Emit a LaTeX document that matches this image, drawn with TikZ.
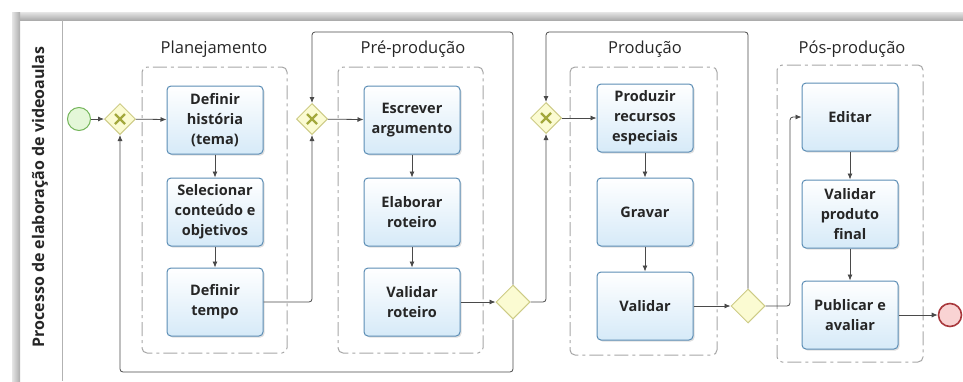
\documentclass[tikz,border=0pt]{standalone}
\usepackage{fontspec}
\setmainfont{Open Sans}
\usetikzlibrary{shapes.geometric,arrows.meta,shadows}
\definecolor{taskline}{HTML}{5B8DB5}
\definecolor{taskfill}{HTML}{D6EAF8}
\definecolor{gatefill}{HTML}{FBFBD2}
\definecolor{gateline}{HTML}{CDCB86}
\definecolor{xcol}{HTML}{A3A83C}
\definecolor{startfill}{HTML}{E4F7D8}
\definecolor{startline}{HTML}{74B55A}
\definecolor{endfill}{HTML}{F9D3D3}
\definecolor{endline}{HTML}{A8383C}
\definecolor{flowline}{HTML}{4A4A4A}
\begin{document}
\begin{tikzpicture}[x=1pt, y=-1pt,
        task/.style={rectangle, draw=taskline, line width=1pt, rounded corners=4pt,
            top color=white, bottom color=taskfill, minimum width=96, minimum height=68,
            align=center, font=\fontsize{14.5}{20}\selectfont\bfseries, text=black!85,
            drop shadow={opacity=0.25, shadow xshift=1.5pt, shadow yshift=-1.5pt}},
        gateway/.style={diamond, draw=gateline, fill=gatefill, line width=1pt,
            minimum width=31, minimum height=31, inner sep=0pt},
        decision/.style={gateway, minimum width=34, minimum height=34},
        event/.style={circle, minimum size=23, inner sep=0pt},
        group/.style={draw=gray!70, line width=1pt, rounded corners=5pt,
            dash pattern=on 14pt off 4pt on 3pt off 4pt},
        grouptitle/.style={font=\fontsize{16.5}{20}\selectfont, text=black!85},
        flow/.style={draw=flowline, line width=0.8pt, rounded corners=3pt,
            -{Latex[length=6pt,width=5pt]}},
        xmark/.style={draw=xcol, line width=2.4pt}
    ]
        \useasboundingbox (0,0) rectangle (963,381);

        % Pool
        \shade[top color=gray!20, bottom color=gray!65] (12,12) rectangle (963,20);
        \shade[left color=gray!20, right color=gray!65] (12,12) rectangle (20,381);
        \draw[gray!60, line width=1pt] (62,20) -- (62,381);
        \node[rotate=90, font=\fontsize{16}{20}\selectfont\bfseries, text=black!85] (lane) at (40,197) {Processo de elaboração de videoaulas};

        % Helper coordinates for the loops
        \coordinate (topline) at (0,32);
        \coordinate (bottomline) at (0,372);
        \coordinate (d2turn) at (790,0);

        % Groups
        \draw[group] (142,67) rectangle (287,353);
        \draw[group] (338,67) rectangle (483,353);
        \draw[group] (570,67) rectangle (717,355);
        \draw[group] (777,65) rectangle (923,362);
        \node[grouptitle] (plan) at (214,49) {Planejamento};
        \node[grouptitle] (pre) at (413,49) {Pré-produção};
        \node[grouptitle] (prod) at (645,49) {Produção};
        \node[grouptitle] (pos) at (852,49) {Pós-produção};

        % Events and gateways
        \node[event, draw=startline, fill=startfill, line width=1pt] (start) at (79,119) {};
        \node[event, draw=endline, fill=endfill, line width=1.6pt] (end) at (950,315) {};
        \node[gateway] (g1) at (120,119) {};
        \node[gateway] (g2) at (312,119) {};
        \node[gateway] (g3) at (546,118) {};
        \node[decision] (d1) at (513,302) {};
        \node[decision] (d2) at (748,306) {};
        \foreach \g in {g1,g2,g3}
            \draw[xmark] ([shift={(-5,-5)}]\g.center) -- ([shift={(5,5)}]\g.center)
                ([shift={(-5,5)}]\g.center) -- ([shift={(5,-5)}]\g.center);

        % Planejamento
        \node[task] (t11) at (215,120) {Definir\\história\\(tema)};
        \node[task] (t12) at (215,212) {Selecionar\\conteúdo e\\objetivos};
        \node[task] (t13) at (215,302) {Definir\\tempo};

        % Pre-producao
        \node[task] (t21) at (412,120) {Escrever\\argumento};
        \node[task] (t22) at (412,212) {Elaborar\\roteiro};
        \node[task] (t23) at (412,302) {Validar\\roteiro};

        % Producao
        \node[task] (t31) at (645,118) {Produzir\\recursos\\especiais};
        \node[task] (t32) at (645,212) {Gravar};
        \node[task] (t33) at (645,306) {Validar};

        % Pos-producao
        \node[task] (t41) at (850,117) {Editar};
        \node[task] (t42) at (850,214) {Validar\\produto\\final};
        \node[task] (t43) at (850,315) {Publicar e\\avaliar};

        % Flows
        \draw[flow] (start) -- (g1);
        \draw[flow] (g1) -- (t11);
        \draw[flow] (t11) -- (t12);
        \draw[flow] (t12) -- (t13);
        \draw[flow] (t13.east) -| (g2.south);
        \draw[flow] (g2) -- (t21);
        \draw[flow] (t21) -- (t22);
        \draw[flow] (t22) -- (t23);
        \draw[flow] (t23) -- (d1);
        \draw[flow] (d1.east) -| (g3.south);
        \draw[flow] (d1.north) -- (d1.north |- topline) -| (g2.north);
        \draw[flow] (d1.south) -- (d1.south |- bottomline) -| (g1.south);
        \draw[flow] (g3) -- (t31);
        \draw[flow] (t31) -- (t32);
        \draw[flow] (t32) -- (t33);
        \draw[flow] (t33) -- (d2);
        \draw[flow] (d2.north) -- (d2.north |- topline) -| (g3.north);
        \draw[flow] (d2.east) -- (d2.east -| d2turn) |- (t41.west);
        \draw[flow] (t41) -- (t42);
        \draw[flow] (t42) -- (t43);
        \draw[flow] (t43) -- (end);
    \end{tikzpicture}
\end{document}
